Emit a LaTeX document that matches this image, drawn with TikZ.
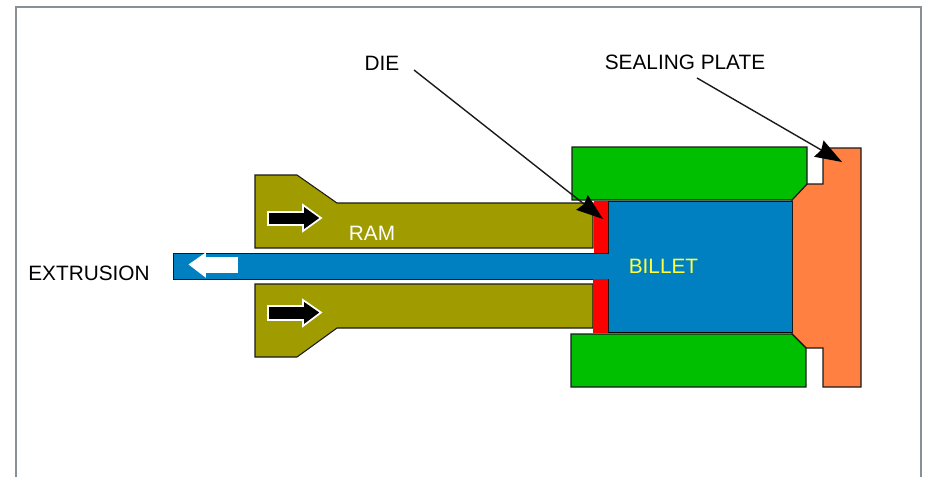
\documentclass[tikz,border=0pt]{standalone}
\usepackage{fontspec}
\setmainfont{Liberation Sans}
\usetikzlibrary{arrows.meta}
\definecolor{frameC}{HTML}{8A8F94}
\definecolor{greenC}{HTML}{00BE00}
\definecolor{blueC}{HTML}{0080C0}
\definecolor{oliveC}{HTML}{A09C00}
\definecolor{redC}{HTML}{FF0000}
\definecolor{orangeC}{HTML}{FF8040}
\definecolor{yellowC}{HTML}{FFFF40}
\definecolor{edgeC}{HTML}{1A1A1A}
\tikzset{
  part/.style={draw=edgeC,line width=0.8pt,line join=miter},
  lbl/.style={inner sep=0pt,font=\fontsize{15.6pt}{18pt}\selectfont},
  leader/.style={draw=edgeC,line width=1.05pt,-{Stealth[length=20pt,width=14pt,inset=2pt,black]}},
  blockarrow/.style={line width=1.3pt,line join=miter}
}
\begin{document}
\begin{tikzpicture}[x=0.75pt,y=-0.75pt]
\useasboundingbox (0,0) rectangle (925,476);
\begin{scope}
\clip (0,0) rectangle (925,476);
\draw[frameC,line width=1.4pt] (16,7) rectangle (921,490);
\end{scope}
% orange sealing plate
\draw[part,fill=orangeC] (823,148) -- (861,148) -- (861,387) -- (823,387) -- (823,348) -- (806,348) -- (792,334) -- (792,200) -- (807,184) -- (823,184) -- cycle;
% green container
\draw[part,fill=greenC] (572,147) -- (807,147) -- (807,184) -- (792,200) -- (572,200) -- cycle;
\draw[part,fill=greenC] (571,334) -- (792,334) -- (806,348) -- (806,387) -- (571,387) -- cycle;
% ram
\draw[part,fill=oliveC] (255,175) -- (297,175) -- (337,203) -- (593,203) -- (593,248) -- (255,248) -- cycle;
\draw[part,fill=oliveC] (255,284) -- (593,284) -- (593,328) -- (337,328) -- (297,357) -- (255,357) -- cycle;
% billet and extrusion
\draw[part,line width=0.6pt,fill=blueC] (173,253) -- (608,253) -- (608,201) -- (792,201) -- (792,332) -- (608,332) -- (608,279) -- (173,279) -- cycle;
\draw[black,line width=1.1pt] (608,332.5) -- (792,332.5);
% die
\fill[redC] (594,201) rectangle (608,253);
\fill[redC] (593,279) rectangle (608,333);
% block arrows
\draw[blockarrow,draw=white,fill=black] (268,212) -- (303,212) -- (303,205) -- (321,218) -- (303,231) -- (303,225) -- (268,225) -- cycle;
\draw[blockarrow,draw=white,fill=black] (268,306) -- (303,306) -- (303,300) -- (321,312.5) -- (303,326) -- (303,320) -- (268,320) -- cycle;
\draw[blockarrow,draw=white,fill=white] (237,258) -- (205,258) -- (205,254) -- (190,264.5) -- (205,276) -- (205,272) -- (237,272) -- cycle;
% labels
\node[lbl,text=white] (ramLabel) at (372,233) {RAM};
\node[lbl,text=yellowC] (billetLabel) at (663.5,266) {BILLET};
\node[lbl,text=black] (extrusionLabel) at (89,273) {EXTRUSION};
\node[lbl,text=black] (dieLabel) at (382,63) {DIE};
\node[lbl,text=black] (sealLabel) at (685,62) {SEALING PLATE};
% leaders
\coordinate (dieStart) at (414,70);
\coordinate (dieTip) at (603,219);
\coordinate (sealStart) at (697,78);
\coordinate (sealTip) at (842,162);
\draw[leader] (dieStart) -- (dieTip);
\draw[leader] (sealStart) -- (sealTip);
\end{tikzpicture}
\end{document}
